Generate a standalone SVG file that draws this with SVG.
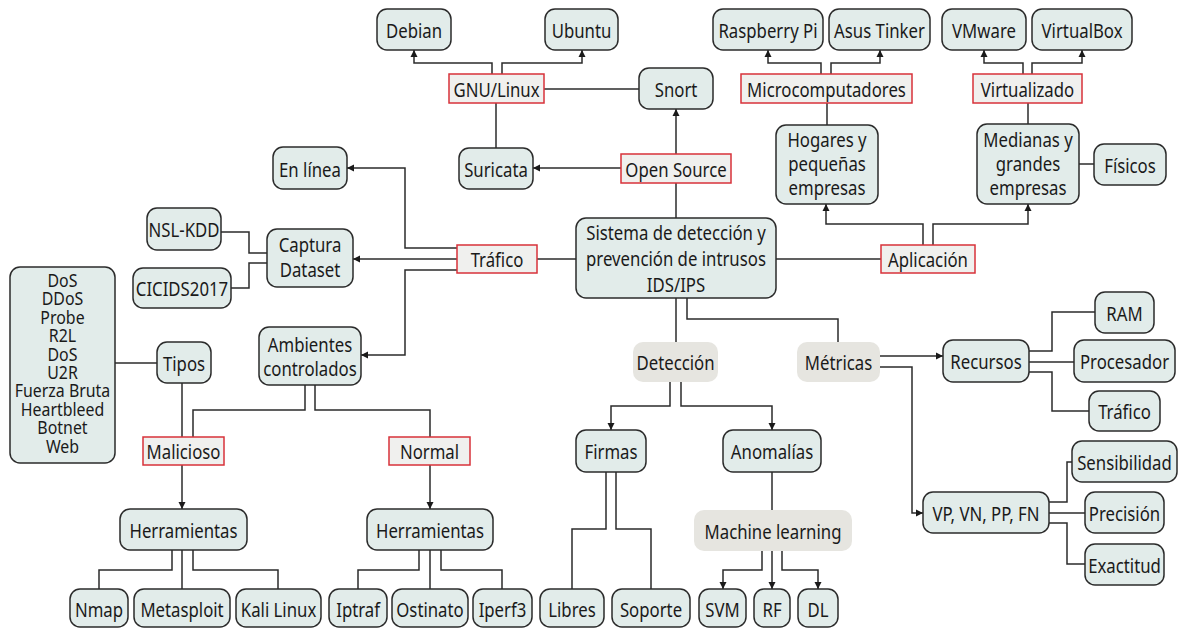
<svg xmlns="http://www.w3.org/2000/svg" width="1178" height="628" viewBox="0 0 1178 628">
<style>
.n{fill:#e2ecea;stroke:#2b2b2b;stroke-width:1.5}
.r{fill:#f0f0ee;stroke:#d8323a;stroke-width:1.5}
.g{fill:#e6e5e0;stroke:none}
text{font-family:"Noto Sans","Open Sans",sans-serif;font-size:19.5px;fill:#1a1a1a;text-anchor:middle;transform-box:fill-box;transform-origin:center;transform:scaleX(0.86)}
.l text{font-size:18.5px}
.c path{fill:none;stroke:#2b2b2b;stroke-width:1.5}
</style>
<defs>
<marker id="a" markerUnits="userSpaceOnUse" markerWidth="10" markerHeight="10" refX="8" refY="5" orient="auto">
<path d="M1,1.5 L8,5 L1,8.5 Z" fill="#1a1a1a"/>
</marker>
</defs>
<rect width="1178" height="628" fill="#ffffff"/>
<g class="c">
<path d="M492,74 V63 H414 V50" marker-end="url(#a)"/>
<path d="M502,74 V63 H582 V50" marker-end="url(#a)"/>
<path d="M544,89 H639"/>
<path d="M496,103 V148"/>
<path d="M676,154 V109" marker-end="url(#a)"/>
<path d="M621,168 H533" marker-end="url(#a)"/>
<path d="M676,218 V183"/>
<path d="M821,74 V63 H768 V50" marker-end="url(#a)"/>
<path d="M831,74 V63 H880 V50" marker-end="url(#a)"/>
<path d="M827,103 V125"/>
<path d="M1023,74 V63 H984 V50" marker-end="url(#a)"/>
<path d="M1032,74 V63 H1082 V50" marker-end="url(#a)"/>
<path d="M1028,103 V124"/>
<path d="M1079,164 H1094"/>
<path d="M776,259 H881"/>
<path d="M923,245 V224 H826 V204" marker-end="url(#a)"/>
<path d="M933,245 V224 H1028 V204" marker-end="url(#a)"/>
<path d="M537,259 H576"/>
<path d="M457,248 H405 V168 H347" marker-end="url(#a)"/>
<path d="M457,259 H353" marker-end="url(#a)"/>
<path d="M457,270 H405 V355 H361" marker-end="url(#a)"/>
<path d="M221,232 H249 V253 H267"/>
<path d="M231,288 H249 V263 H267"/>
<path d="M115,363 H157"/>
<path d="M182,383 V437"/>
<path d="M305,385 V410 H193 V437"/>
<path d="M315,385 V410 H430 V437"/>
<path d="M182,465 V509" marker-end="url(#a)"/>
<path d="M430,465 V509" marker-end="url(#a)"/>
<path d="M172,550 V570 H99 V589"/>
<path d="M182,550 V589"/>
<path d="M193,550 V570 H278 V589"/>
<path d="M419,550 V570 H358 V589"/>
<path d="M430,550 V589"/>
<path d="M441,550 V570 H502 V589"/>
<path d="M676,298 V342"/>
<path d="M687,298 V319 H838 V342"/>
<path d="M670,382 V406 H611 V430" marker-end="url(#a)"/>
<path d="M681,382 V406 H772 V430" marker-end="url(#a)"/>
<path d="M606,472 V529 H572 V589"/>
<path d="M616,472 V529 H651 V589"/>
<path d="M772,472 V510"/>
<path d="M762,551 V570 H723 V589" marker-end="url(#a)"/>
<path d="M772,551 V589" marker-end="url(#a)"/>
<path d="M782,551 V570 H818 V589" marker-end="url(#a)"/>
<path d="M880,356 H943" marker-end="url(#a)"/>
<path d="M880,367 H912 V513 H923" marker-end="url(#a)"/>
<path d="M1029,351 H1052 V312 H1095"/>
<path d="M1029,362 H1074"/>
<path d="M1029,372 H1052 V411 H1089"/>
<path d="M1049,502 H1067 V462 H1072"/>
<path d="M1049,513 H1085"/>
<path d="M1049,523 H1067 V564 H1085"/>
</g>
<g id="debian"><rect class="n" x="377" y="9" width="74" height="41" rx="10"/><text x="414" y="38.5">Debian</text></g>
<g id="ubuntu"><rect class="n" x="545" y="9" width="73" height="41" rx="10"/><text x="581.5" y="38.5">Ubuntu</text></g>
<g id="gnulinux"><rect class="r" x="449" y="74" width="95" height="29"/><text x="496.5" y="97">GNU/Linux</text></g>
<g id="snort"><rect class="n" x="639" y="68" width="74" height="41" rx="10"/><text x="676" y="97">Snort</text></g>
<g id="suricata"><rect class="n" x="459" y="148" width="74" height="41" rx="10"/><text x="496" y="177">Suricata</text></g>
<g id="opensource"><rect class="r" x="621" y="154" width="110" height="29"/><text x="676" y="177">Open Source</text></g>
<g id="enlinea"><rect class="n" x="273" y="147" width="74" height="42" rx="10"/><text x="310" y="177">En línea</text></g>
<g id="raspberry"><rect class="n" x="713" y="9" width="110" height="41" rx="10"/><text x="768" y="38.5">Raspberry Pi</text></g>
<g id="asus"><rect class="n" x="829" y="9" width="101" height="41" rx="10"/><text x="879.5" y="38.5">Asus Tinker</text></g>
<g id="micro"><rect class="r" x="741" y="74" width="171" height="29"/><text x="826.5" y="97">Microcomputadores</text></g>
<g id="hogares"><rect class="n" x="776" y="125" width="102" height="79" rx="10"/><text x="827" y="147">Hogares y</text><text x="827" y="171">pequeñas</text><text x="827" y="195">empresas</text></g>
<g id="vmware"><rect class="n" x="942" y="9" width="84" height="41" rx="10"/><text x="984" y="38.5">VMware</text></g>
<g id="virtualbox"><rect class="n" x="1032" y="9" width="100" height="41" rx="10"/><text x="1082" y="38.5">VirtualBox</text></g>
<g id="virtualizado"><rect class="r" x="973" y="74" width="109" height="29"/><text x="1027.5" y="97">Virtualizado</text></g>
<g id="medianas"><rect class="n" x="977" y="124" width="102" height="80" rx="10"/><text x="1028" y="147">Medianas y</text><text x="1028" y="171">grandes</text><text x="1028" y="195">empresas</text></g>
<g id="fisicos"><rect class="n" x="1094" y="144" width="72" height="41" rx="10"/><text x="1130" y="173">Físicos</text></g>
<g id="sistema"><rect class="n" x="576" y="218" width="200" height="80" rx="10"/><text x="676" y="240">Sistema de detección y</text><text x="676" y="266">prevención de intrusos</text><text x="676" y="292">IDS/IPS</text></g>
<g id="trafico"><rect class="r" x="457" y="245" width="80" height="28"/><text x="497" y="267.5">Tráfico</text></g>
<g id="aplicacion"><rect class="r" x="881" y="245" width="94" height="28"/><text x="928" y="267.5">Aplicación</text></g>
<g id="nslkdd"><rect class="n" x="147" y="208" width="74" height="42" rx="10"/><text x="184" y="237.5">NSL-KDD</text></g>
<g id="cicids"><rect class="n" x="133" y="268" width="98" height="40" rx="10"/><text x="182" y="296.5">CICIDS2017</text></g>
<g id="captura"><rect class="n" x="267" y="229" width="86" height="58" rx="10"/><text x="310" y="252">Captura</text><text x="310" y="277">Dataset</text></g>
<g id="ambientes"><rect class="n" x="259" y="327" width="102" height="58" rx="10"/><text x="310" y="352">Ambientes</text><text x="310" y="376">controlados</text></g>
<g id="lista" class="l"><rect class="n" x="10" y="267" width="105" height="196" rx="10"/>
<text x="62.5" y="287">DoS</text><text x="62.5" y="305.4">DDoS</text><text x="62.5" y="323.8">Probe</text><text x="62.5" y="342.2">R2L</text><text x="62.5" y="360.6">DoS</text><text x="62.5" y="379">U2R</text><text x="62.5" y="397.4">Fuerza Bruta</text><text x="62.5" y="415.8">Heartbleed</text><text x="62.5" y="434.2">Botnet</text><text x="62.5" y="452.6">Web</text></g>
<g id="tipos"><rect class="n" x="157" y="342" width="54" height="41" rx="10"/><text x="184" y="371">Tipos</text></g>
<g id="malicioso"><rect class="r" x="143" y="437" width="81" height="28"/><text x="183.5" y="459.5">Malicioso</text></g>
<g id="normal"><rect class="r" x="389" y="437" width="81" height="28"/><text x="429.5" y="459.5">Normal</text></g>
<g id="herr1"><rect class="n" x="120" y="509" width="127" height="41" rx="10"/><text x="183.5" y="538">Herramientas</text></g>
<g id="herr2"><rect class="n" x="367" y="509" width="126" height="41" rx="10"/><text x="430" y="538">Herramientas</text></g>
<g id="nmap"><rect class="n" x="70" y="589" width="58" height="38" rx="10"/><text x="99" y="617">Nmap</text></g>
<g id="metasploit"><rect class="n" x="134" y="589" width="96" height="38" rx="10"/><text x="182" y="617">Metasploit</text></g>
<g id="kali"><rect class="n" x="236" y="589" width="85" height="38" rx="10"/><text x="278.5" y="617">Kali Linux</text></g>
<g id="iptraf"><rect class="n" x="329" y="589" width="58" height="38" rx="10"/><text x="358" y="617">Iptraf</text></g>
<g id="ostinato"><rect class="n" x="392" y="589" width="76" height="38" rx="10"/><text x="430" y="617">Ostinato</text></g>
<g id="iperf3"><rect class="n" x="473" y="589" width="59" height="38" rx="10"/><text x="502.5" y="617">Iperf3</text></g>
<g id="libres"><rect class="n" x="540" y="589" width="64" height="38" rx="10"/><text x="572" y="617">Libres</text></g>
<g id="soporte"><rect class="n" x="612" y="589" width="78" height="38" rx="10"/><text x="651" y="617">Soporte</text></g>
<g id="svm"><rect class="n" x="699" y="589" width="47" height="38" rx="10"/><text x="722.5" y="617">SVM</text></g>
<g id="rf"><rect class="n" x="754" y="589" width="36" height="38" rx="10"/><text x="772" y="617">RF</text></g>
<g id="dl"><rect class="n" x="798" y="589" width="40" height="38" rx="10"/><text x="818" y="617">DL</text></g>
<g id="deteccion"><rect class="g" x="633" y="342" width="85" height="40" rx="10"/><text x="675.5" y="370.5">Detección</text></g>
<g id="metricas"><rect class="g" x="797" y="342" width="83" height="40" rx="10"/><text x="838.5" y="370.5">Métricas</text></g>
<g id="firmas"><rect class="n" x="576" y="430" width="70" height="42" rx="10"/><text x="611" y="459.5">Firmas</text></g>
<g id="anomalias"><rect class="n" x="723" y="430" width="98" height="42" rx="10"/><text x="772" y="459.5">Anomalías</text></g>
<g id="ml"><rect class="g" x="694" y="510" width="158" height="41" rx="10"/><text x="773" y="539">Machine learning</text></g>
<g id="recursos"><rect class="n" x="943" y="340" width="86" height="42" rx="10"/><text x="986" y="369.5">Recursos</text></g>
<g id="ram"><rect class="n" x="1095" y="292" width="59" height="41" rx="10"/><text x="1124.5" y="321">RAM</text></g>
<g id="procesador"><rect class="n" x="1074" y="340" width="101" height="42" rx="10"/><text x="1124.5" y="369.5">Procesador</text></g>
<g id="trafico2"><rect class="n" x="1089" y="391" width="71" height="40" rx="10"/><text x="1124.5" y="419.5">Tráfico</text></g>
<g id="vp"><rect class="n" x="923" y="492" width="126" height="41" rx="10"/><text x="986" y="521">VP, VN, PP, FN</text></g>
<g id="sensibilidad"><rect class="n" x="1072" y="441" width="105" height="41" rx="10"/><text x="1124.5" y="470">Sensibilidad</text></g>
<g id="precision"><rect class="n" x="1085" y="492" width="79" height="41" rx="10"/><text x="1124.5" y="521">Precisión</text></g>
<g id="exactitud"><rect class="n" x="1085" y="544" width="79" height="41" rx="10"/><text x="1124.5" y="573">Exactitud</text></g>
</svg>
